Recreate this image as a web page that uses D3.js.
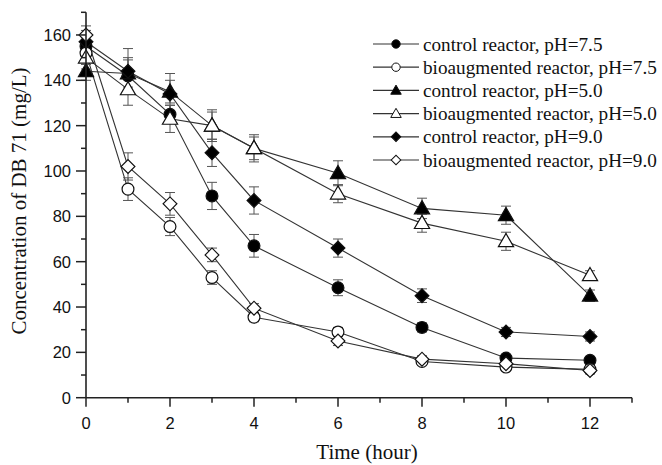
<!DOCTYPE html>
<html>
<head>
<meta charset="utf-8">
<script src="https://cdn.jsdelivr.net/npm/d3@7"></script>
<style>
  html, body { margin: 0; padding: 0; background: #fff; }
  svg { display: block; }
</style>
</head>
<body>
<svg id="chart" width="662" height="465"></svg>
<script>
// ---- data ----
const times = [0, 1, 2, 3, 4, 6, 8, 10, 12];
const xTicks = [0, 2, 4, 6, 8, 10, 12];
const yTicks = [0, 20, 40, 60, 80, 100, 120, 140, 160];

const seriesNames = [
  "control reactor, pH=7.5",
  "bioaugmented reactor, pH=7.5",
  "control reactor, pH=5.0",
  "bioaugmented reactor, pH=5.0",
  "control reactor, pH=9.0",
  "bioaugmented reactor, pH=9.0"
];
const seriesShapes = ["circle", "circle", "triangle", "triangle", "diamond", "diamond"];
const seriesFilled = [true, false, true, false, true, false];

const ctrl75 = [155, 142, 125, 89, 67, 48.5, 31, 17.5, 16.5];
const ctrl75Err = [5, 8, 4, 6, 5, 3.5, 2, 1.5, 1.5];
const bio75 = [152, 92, 75.5, 53, 35.5, 29, 16, 13.5, 12.5];
const bio75Err = [5, 5, 4, 3, 2, 2, 1.5, 1.5, 1.5];
const ctrl50 = [144, 143, 135, 120, 110, 99, 83.5, 80.5, 45];
const ctrl50Err = [4, 6, 5, 6, 5, 5.5, 4.5, 4, 2.5];
const bio50 = [150, 136, 123, 120, 110, 90, 77, 69, 54];
const bio50Err = [5, 7, 6, 7, 6, 4, 4, 4, 2];
const ctrl90 = [157, 144, 134, 108, 87, 66, 45, 29, 27];
const ctrl90Err = [5, 10, 9, 6, 6, 4, 3, 2, 2];
const bio90 = [160, 102, 85.5, 63, 39.5, 25, 17, 15, 12];
const bio90Err = [4, 6, 5, 3, 2, 2, 1.5, 1.5, 1.5];

const seriesValues = [ctrl75, bio75, ctrl50, bio50, ctrl90, bio90];
const seriesErrors = [ctrl75Err, bio75Err, ctrl50Err, bio50Err, ctrl90Err, bio90Err];

// ---- layout ----
const svg = d3.select("#chart");
const x = d3.scaleLinear().domain([0, 13]).range([86, 632]);
const y = d3.scaleLinear().domain([0, 170]).range([397.7, 12.3]);

const serif = "'Liberation Serif', 'Times New Roman', serif";
const sans = "'Liberation Sans', Arial, sans-serif";

function symbolPath(shape, big) {
  if (shape === "circle") return d3.symbol(d3.symbolCircle, big ? 110 : 55)();
  if (shape === "triangle") return d3.symbol(d3.symbolTriangle, big ? 100 : 48)();
  return d3.symbol(d3.symbolSquare, big ? 95 : 46)();
}

// ---- data lines, error bars, markers ----
const line = d3.line().x(d => x(d[0])).y(d => y(d[1]));
const gData = svg.append("g");

seriesValues.forEach((vals, si) => {
  const pts = times.map((t, i) => [t, vals[i]]);
  gData.append("path")
    .attr("d", line(pts))
    .attr("fill", "none")
    .attr("stroke", "#333")
    .attr("stroke-width", 1.1);
});

seriesValues.forEach((vals, si) => {
  const errs = seriesErrors[si];
  const g = gData.append("g");
  times.forEach((t, i) => {
    const cx = x(t), top = y(vals[i] + errs[i]), bot = y(vals[i] - errs[i]);
    g.append("line").attr("x1", cx).attr("x2", cx).attr("y1", top).attr("y2", bot)
      .attr("stroke", "#555").attr("stroke-width", 1);
    [top, bot].forEach(yy => {
      g.append("line").attr("x1", cx - 5).attr("x2", cx + 5).attr("y1", yy).attr("y2", yy)
        .attr("stroke", "#555").attr("stroke-width", 1);
    });
  });
});

seriesValues.forEach((vals, si) => {
  const shape = seriesShapes[si];
  const filled = seriesFilled[si];
  times.forEach((t, i) => {
    let tr = `translate(${x(t)},${y(vals[i])})`;
    if (shape === "diamond") tr += " rotate(45)";
    if (shape === "triangle") tr = `translate(${x(t)},${y(vals[i]) + 1})`;
    gData.append("path")
      .attr("d", symbolPath(shape, true))
      .attr("transform", tr)
      .attr("fill", filled ? "#000" : "#fff")
      .attr("stroke", "#111")
      .attr("stroke-width", 1.2);
  });
});

// ---- axes ----
const axisColor = "#222";
const xAxis = svg.append("g");
xAxis.append("line").attr("x1", x(0)).attr("x2", x(13)).attr("y1", y(0)).attr("y2", y(0))
  .attr("stroke", axisColor).attr("stroke-width", 1.6);
d3.range(0, 14, 1).forEach(v => {
  const major = v % 2 === 0;
  xAxis.append("line").attr("x1", x(v)).attr("x2", x(v))
    .attr("y1", y(0)).attr("y2", y(0) + (major ? 9 : 5))
    .attr("stroke", axisColor).attr("stroke-width", 1.5);
});
xTicks.forEach(v => {
  xAxis.append("text").attr("x", x(v)).attr("y", 428.5)
    .attr("text-anchor", "middle").attr("font-family", sans).attr("font-size", 16.5)
    .attr("fill", "#111").text(v);
});

const yAxis = svg.append("g");
yAxis.append("line").attr("x1", x(0)).attr("x2", x(0)).attr("y1", y(0)).attr("y2", y(170))
  .attr("stroke", axisColor).attr("stroke-width", 1.6);
d3.range(0, 171, 10).forEach(v => {
  const major = v % 20 === 0;
  yAxis.append("line").attr("x1", x(0) - (major ? 10 : 5)).attr("x2", x(0))
    .attr("y1", y(v)).attr("y2", y(v))
    .attr("stroke", axisColor).attr("stroke-width", 1.5);
});
yTicks.forEach(v => {
  yAxis.append("text").attr("x", 71).attr("y", y(v) + 6)
    .attr("text-anchor", "end").attr("font-family", sans).attr("font-size", 16.5)
    .attr("fill", "#111").text(v);
});

// axis titles
svg.append("text").attr("x", 367).attr("y", 459)
  .attr("text-anchor", "middle").attr("font-family", serif).attr("font-size", 21)
  .attr("fill", "#111").text("Time (hour)");
svg.append("text")
  .attr("transform", "translate(26,201) rotate(-90)")
  .attr("text-anchor", "middle").attr("font-family", serif).attr("font-size", 21)
  .attr("fill", "#111").text("Concentration of DB 71 (mg/L)");

// ---- legend ----
const legend = svg.append("g");
seriesNames.forEach((name, si) => {
  const cy = 44 + si * 23.2;
  legend.append("line").attr("x1", 373).attr("x2", 419).attr("y1", cy).attr("y2", cy)
    .attr("stroke", "#333").attr("stroke-width", 1.2);
  const shape = seriesShapes[si];
  let tr = `translate(396,${cy})`;
  if (shape === "diamond") tr += " rotate(45)";
  if (shape === "triangle") tr = `translate(396,${cy + 0.8})`;
  legend.append("path").attr("d", symbolPath(shape, false)).attr("transform", tr)
    .attr("fill", seriesFilled[si] ? "#000" : "#fff").attr("stroke", "#111").attr("stroke-width", 1);
  legend.append("text").attr("x", 423).attr("y", cy + 6.5)
    .attr("font-family", serif).attr("font-size", 19.2).attr("fill", "#111").text(name);
});
</script>
</body>
</html>
